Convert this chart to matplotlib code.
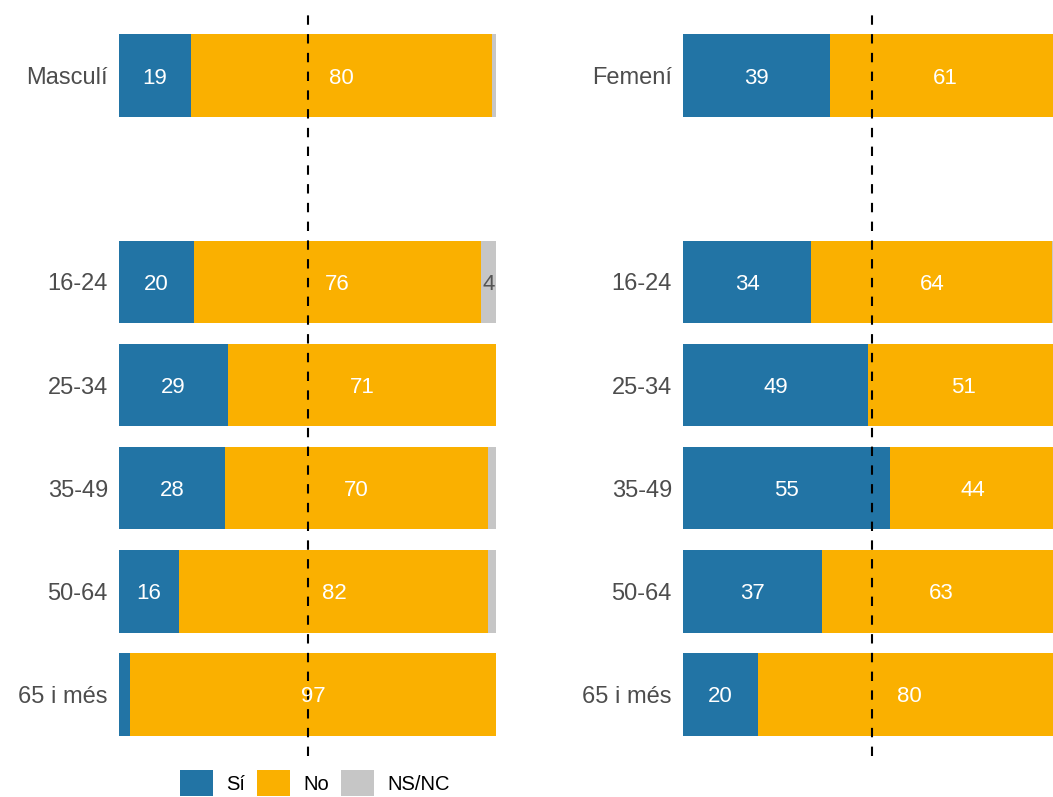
import matplotlib.pyplot as plt
from matplotlib.patches import Patch

plt.rcParams['font.family'] = ['Liberation Sans', 'DejaVu Sans']

# Respostes per grup (%): Sí / No / NS-NC
rows_home = ['Masculí', '16-24', '25-34', '35-49', '50-64', '65 i més']
si_home = [19, 20, 29, 28, 16, 3]
no_home = [80, 76, 71, 70, 82, 97]
nsnc_home = [1, 4, 0, 2, 2, 0]

rows_dona = ['Femení', '16-24', '25-34', '35-49', '50-64', '65 i més']
si_dona = [39, 34, 49, 55, 37, 20]
no_dona = [61, 64, 51, 44, 63, 80]
nsnc_dona = [0, 2, 0, 1, 0, 0]

categories = ['Sí', 'No', 'NS/NC']
colors = ['#2274A5', '#FAB000', '#C6C6C6']
label_colors = ['white', 'white', '#555555']

# posició de cada fila (deixem un buit després del total)
ypos = [0, 2, 3, 4, 5, 6]

W, H = 1053, 797
fig = plt.figure(figsize=(W / 100, H / 100), dpi=100)


def panel(x0, rows, si, no, nsnc):
    ax = fig.add_axes([x0 / W, 1 - 756.4 / H, 377 / W, 742.8 / H])
    left = [0] * len(rows)
    for vals, col, lcol in zip([si, no, nsnc], colors, label_colors):
        ax.barh(ypos, vals, left=left, height=0.8, color=col, linewidth=0)
        for y, l, v in zip(ypos, left, vals):
            if v > 3:
                ax.text(l + v / 2, y, str(v), ha='center', va='center_baseline',
                        color=lcol, fontsize=16)
        left = [a + b for a, b in zip(left, vals)]
    ax.axvline(50, color='black', lw=1.5, linestyle=(0, (4.5, 4.5)))
    ax.set_xlim(0, 100)
    ax.set_ylim(6.6, -0.6)
    ax.set_yticks(ypos)
    ax.set_yticklabels(rows, fontsize=17, color='#4D4D4D')
    ax.tick_params(axis='y', length=0, pad=8)
    ax.set_xticks([])
    for s in ax.spines.values():
        s.set_visible(False)
    return ax


panel(119, rows_home, si_home, no_home, nsnc_home)
panel(683, rows_dona, si_dona, no_dona, nsnc_dona)

handles = [Patch(facecolor=c, edgecolor='none') for c in colors]
fig.legend(handles, categories, loc='center', bbox_to_anchor=(0.299, 1 - 783 / H),
           ncol=3, frameon=False, fontsize=14.5, handlelength=1.65,
           handleheight=1.55, handletextpad=0.65, columnspacing=0.6,
           borderpad=0, borderaxespad=0)

fig.savefig('out.png', dpi=100)
